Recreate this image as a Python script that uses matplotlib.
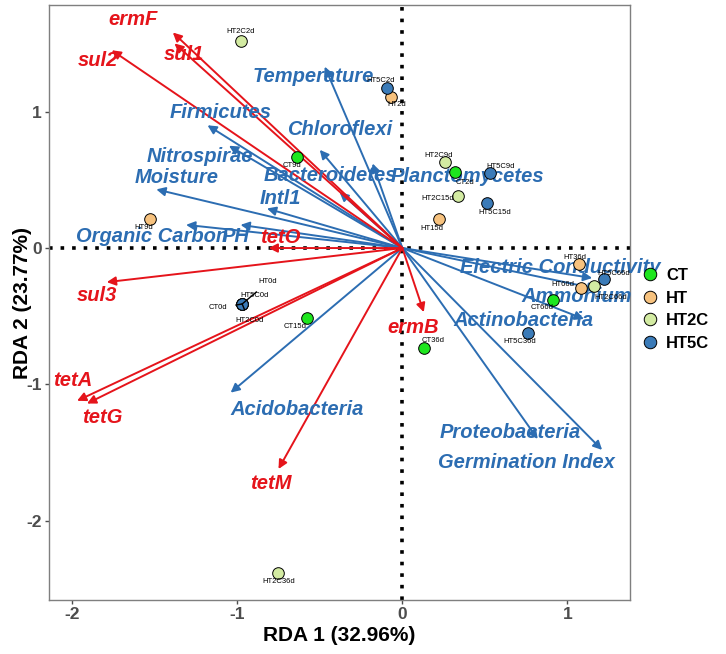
import matplotlib
matplotlib.use("Agg")
import matplotlib.pyplot as plt
from matplotlib.lines import Line2D

plt.rcParams['font.family'] = ['Liberation Sans', 'DejaVu Sans']
plt.rcParams['axes.unicode_minus'] = False

# environmental / community vectors (blue)
env_names = ['Temperature', 'Firmicutes', 'Chloroflexi', 'Nitrospirae', 'Moisture',
             'Bacteroidetes', 'Planctomycetes', 'Intl1', 'Organic Carbon', 'PH',
             'Electric Conductivity', 'Ammonium', 'Actinobacteria', 'Proteobacteria',
             'Germination Index', 'Acidobacteria']
env_x = [-0.47, -1.18, -0.50, -1.05, -1.49, -0.38, -0.18, -0.82, -1.31, -0.98,
         1.15, 1.18, 1.10, 0.82, 1.21, -1.04]
env_y = [1.33, 0.90, 0.72, 0.75, 0.43, 0.41, 0.62, 0.29, 0.17, 0.17,
         -0.22, -0.30, -0.52, -1.40, -1.48, -1.06]

# resistance genes (red)
arg_names = ['ermF', 'sul1', 'sul2', 'tetO', 'sul3', 'tetA', 'tetG', 'tetM', 'ermB']
arg_x = [-1.39, -1.38, -1.76, -0.81, -1.79, -1.97, -1.91, -0.75, 0.13]
arg_y = [1.58, 1.50, 1.45, 0.00, -0.25, -1.12, -1.14, -1.62, -0.47]

# samples
groups = ['CT', 'HT', 'HT2C', 'HT5C']
days = ['0d', '2d', '9d', '15d', '36d', '66d']
ct_x = [-0.97, 0.32, -0.64, -0.58, 0.13, 0.91]
ct_y = [-0.41, 0.56, 0.67, -0.51, -0.73, -0.38]
ht_x = [-0.97, -0.07, -1.53, 0.22, 1.07, 1.08]
ht_y = [-0.41, 1.11, 0.21, 0.21, -0.12, -0.29]
ht2c_x = [-0.97, -0.98, 0.26, 0.34, -0.75, 1.16]
ht2c_y = [-0.41, 1.52, 0.63, 0.38, -2.38, -0.28]
ht5c_x = [-0.97, -0.09, 0.53, 0.51, 0.76, 1.22]
ht5c_y = [-0.41, 1.17, 0.55, 0.33, -0.62, -0.23]

group_colors = {'CT': '#1EE61E', 'HT': '#F7C27E', 'HT2C': '#D3EBA2', 'HT5C': '#3B7BB8'}
blue = '#2C6DB2'
red = '#E5141B'

# label offsets (pixels) relative to arrow tips / points
env_off = [(-11, -10), (13, 13), (20, 20), (-29, -11), (20, 12), (-9, 17), (95, -13),
           (13, 10), (-34, -12), (-5, -12), (-32, 11), (-20, -8), (-60, -2), (-27, 7),
           (-76, -13), (66, -17)]
arg_off = [(-40, 13), (9, -11), (-14, -10), (12, 11), (-10, -13), (-4, 20), (15, -14),
           (-8, -14), (-11, -15)]
pt_off = {
    'CT': [(-24, -4), (10, -11), (-5, -9), (-11, -9), (9, 7), (-10, -8)],
    'HT': [(26, 22), (6, -8), (-6, -8), (-7, -9), (-4, 7), (-18, 3)],
    'HT2C': [(7, -17), (0, 9), (-7, 7), (-21, -2), (0, -9), (17, -11)],
    'HT5C': [(12, 8), (-7, 8), (11, 7), (8, -9), (-8, -9), (10, 6)],
}
leader = {('CT', 0), ('HT', 0), ('HT2C', 0)}

fig = plt.figure(figsize=(7.26, 6.54), dpi=100)
ax = fig.add_axes([0.0675, 0.0826, 0.8005, 0.9094])
ax.set_xlim(-2.14, 1.38)
ax.set_ylim(-2.58, 1.78)

ax.axhline(0, color='black', lw=2.6, ls=(0, (1, 2.2)), zorder=1)
ax.axvline(0, color='black', lw=2.6, ls=(0, (1, 2.2)), zorder=1)

for x, y in zip(env_x, env_y):
    ax.annotate('', xy=(x, y), xytext=(0, 0),
                arrowprops=dict(arrowstyle='-|>', color=blue, lw=1.4, mutation_scale=13,
                                shrinkA=0, shrinkB=0), zorder=2)
for x, y in zip(arg_x, arg_y):
    ax.annotate('', xy=(x, y), xytext=(0, 0),
                arrowprops=dict(arrowstyle='-|>', color=red, lw=1.4, mutation_scale=13,
                                shrinkA=0, shrinkB=0), zorder=2)

for name, x, y, off in zip(env_names, env_x, env_y, env_off):
    ax.annotate(name, xy=(x, y), xytext=off, textcoords='offset pixels',
                ha='center', va='center', color=blue, fontsize=14.5,
                fontweight='bold', fontstyle='italic', zorder=3)
for name, x, y, off in zip(arg_names, arg_x, arg_y, arg_off):
    ax.annotate(name, xy=(x, y), xytext=off, textcoords='offset pixels',
                ha='center', va='center', color=red, fontsize=14.5,
                fontweight='bold', fontstyle='italic', zorder=3)

sample_xy = {'CT': (ct_x, ct_y), 'HT': (ht_x, ht_y),
             'HT2C': (ht2c_x, ht2c_y), 'HT5C': (ht5c_x, ht5c_y)}
for g in groups:
    xs, ys = sample_xy[g]
    ax.scatter(xs, ys, s=70, color=group_colors[g], edgecolor='black', lw=0.7, zorder=4)

for g in groups:
    xs, ys = sample_xy[g]
    for i, (x, y) in enumerate(zip(xs, ys)):
        props = None
        if (g, i) in leader:
            props = dict(arrowstyle='-', color='black', lw=1.0, shrinkA=4, shrinkB=0)
        ax.annotate(g + days[i], xy=(x, y), xytext=pt_off[g][i], textcoords='offset pixels',
                    ha='center', va='center', fontsize=5.5, color='black',
                    arrowprops=props, zorder=5)

ax.set_xticks([-2, -1, 0, 1])
ax.set_yticks([-2, -1, 0, 1])
ax.tick_params(labelsize=12.5, colors='#4D4D4D', length=3, width=1, pad=2)
for lab in ax.get_xticklabels() + ax.get_yticklabels():
    lab.set_fontweight('bold')
for sp in ax.spines.values():
    sp.set_color('#7F7F7F')
    sp.set_linewidth(1)

ax.set_xlabel('RDA 1 (32.96%)', fontsize=15, fontweight='bold', labelpad=3)
ax.set_ylabel('RDA 2 (23.77%)', fontsize=15, fontweight='bold')
ax.yaxis.set_label_coords(-0.03, 0.5)

handles = [Line2D([0], [0], marker='o', ls='', markersize=9, markerfacecolor=group_colors[g],
                  markeredgecolor='black', markeredgewidth=0.7) for g in groups]
fig.legend(handles, groups, loc='center left', bbox_to_anchor=(0.858, 0.527),
           frameon=False, handletextpad=0.2, labelspacing=0.45, handlelength=1.5,
           prop={'weight': 'bold', 'size': 12})

fig.savefig('out.png', dpi=100)
